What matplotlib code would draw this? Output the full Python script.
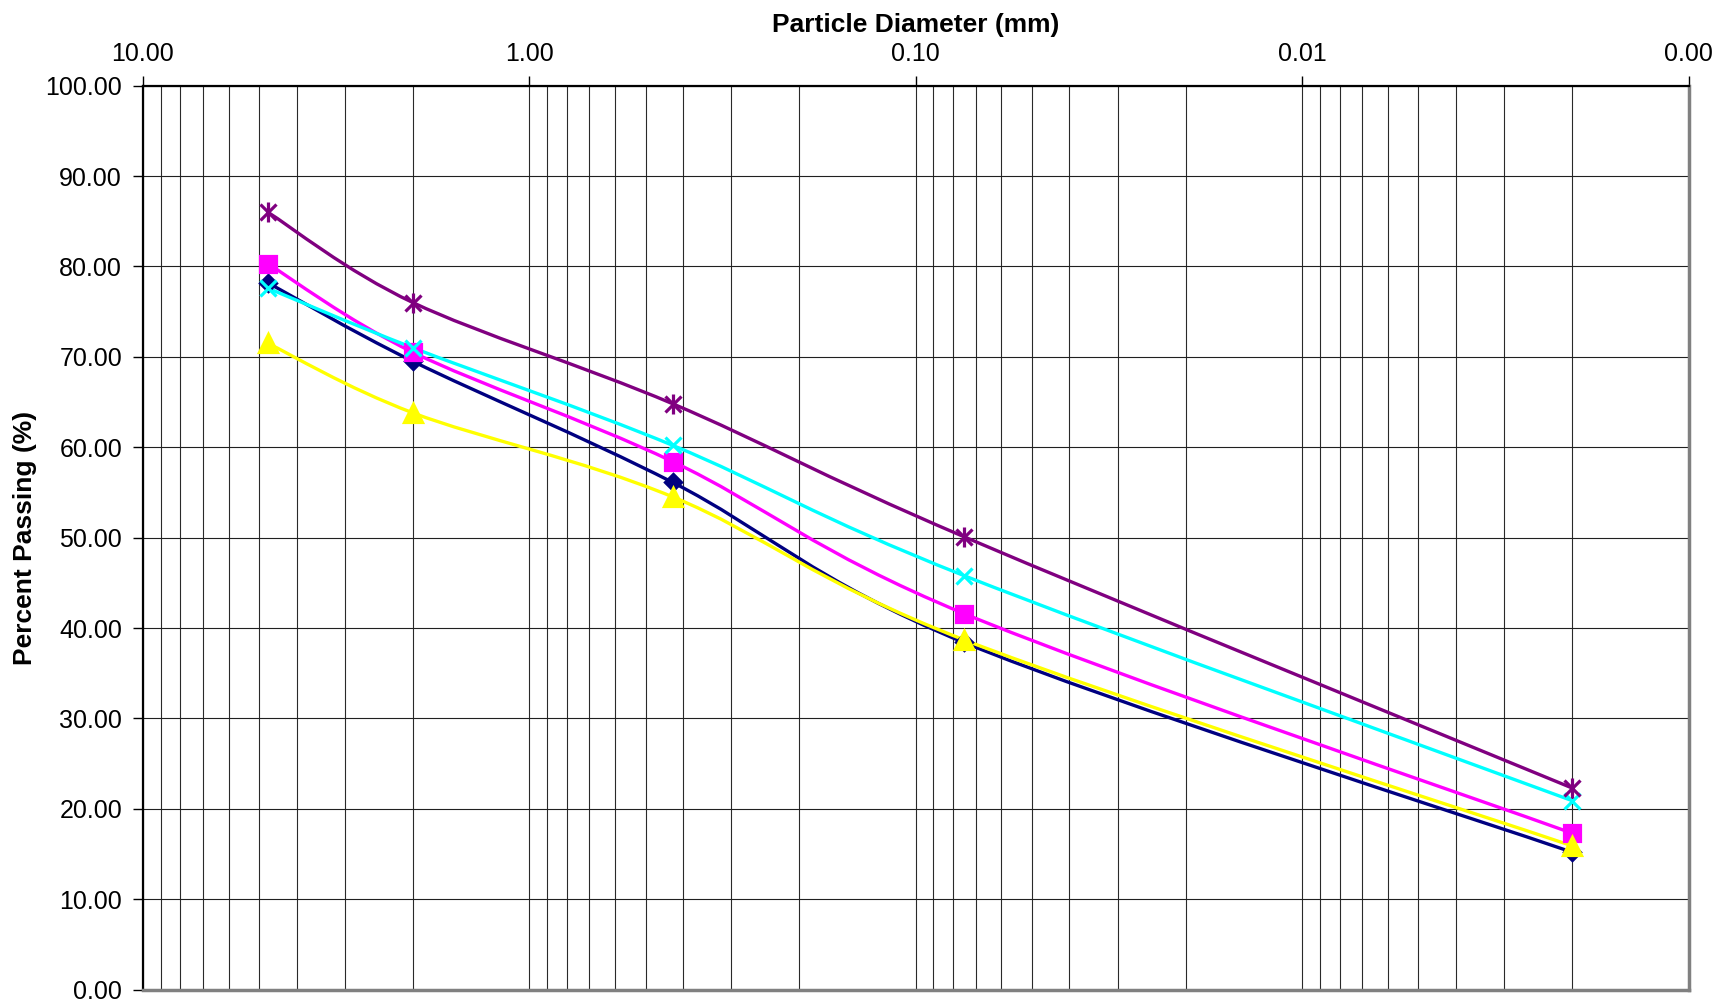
import numpy as np
import matplotlib
matplotlib.use('Agg')
import matplotlib.pyplot as plt
from matplotlib.path import Path
from matplotlib.patches import PathPatch
from matplotlib.ticker import FixedLocator, FuncFormatter, LogLocator, NullFormatter

plt.rcParams['font.family'] = ['Liberation Sans', 'DejaVu Sans']

# sieve sizes (mm) and percent passing for each sample
sizes = [4.75, 2.0, 0.425, 0.075, 0.002]
navy_vals = [78.2, 69.5, 56.1, 38.4, 15.2]
magenta_vals = [80.3, 70.5, 58.4, 41.6, 17.3]
yellow_vals = [71.5, 63.8, 54.5, 38.7, 15.9]
cyan_vals = [77.6, 71.0, 60.2, 45.8, 20.9]
purple_vals = [86.0, 76.0, 64.8, 50.1, 22.3]

series = [
    (navy_vals, '#000080', 'D', 8),
    (magenta_vals, '#FF00FF', 's', 12),
    (yellow_vals, '#FFFF00', '^', 13),
    (cyan_vals, '#00FFFF', 'x', 12),
    (purple_vals, '#800080', 'x', 12),
]


def smooth_path(xs, ys):
    # excel style smoothed line: bezier segments with catmull-rom control points in log-x space
    u = np.log10(xs)
    y = np.array(ys, dtype=float)
    n = len(u)
    verts = [(xs[0], y[0])]
    codes = [Path.MOVETO]
    for i in range(n - 1):
        i0 = max(i - 1, 0)
        i3 = min(i + 2, n - 1)
        c1u = u[i] + (u[i + 1] - u[i0]) / 6.0
        c1y = y[i] + (y[i + 1] - y[i0]) / 6.0
        c2u = u[i + 1] - (u[i3] - u[i]) / 6.0
        c2y = y[i + 1] - (y[i3] - y[i]) / 6.0
        verts += [(10 ** c1u, c1y), (10 ** c2u, c2y), (xs[i + 1], y[i + 1])]
        codes += [Path.CURVE4] * 3
    return Path(verts, codes)


fig = plt.figure(figsize=(17.23, 10.05), dpi=100)
ax = fig.add_axes([0.0829, 0.0153, 0.8971, 0.8995])

ax.set_xscale('log')
ax.set_xlim(10, 0.001)
ax.set_ylim(0, 100)

z = 3
for vals, col, mk, ms in series:
    ax.add_patch(PathPatch(smooth_path(sizes, vals), fill=False, edgecolor=col, lw=2.4, zorder=z))
    z += 1
z = 10
for vals, col, mk, ms in series:
    ax.plot(sizes, vals, ls='none', marker=mk, ms=ms, color=col, mec=col, mew=2.3, zorder=z)
    if col == '#800080':
        ax.plot(sizes, vals, ls='none', marker='|', ms=ms + 3, color=col, mew=2.3, zorder=z)
    z += 1

# grid
ax.xaxis.set_major_locator(FixedLocator([10, 1, 0.1, 0.01, 0.001]))
ax.xaxis.set_minor_locator(LogLocator(base=10, subs=np.arange(2, 10)))
ax.xaxis.set_minor_formatter(NullFormatter())
ax.xaxis.set_major_formatter(FuncFormatter(lambda v, p: '%.2f' % v))
ax.set_yticks(np.arange(0, 101, 10))
ax.yaxis.set_major_formatter(FuncFormatter(lambda v, p: '%.2f' % v))
ax.grid(True, which='both', axis='x', color='#2a2a2a', lw=0.8)
ax.grid(True, which='major', axis='y', color='#202020', lw=0.8)
ax.set_axisbelow(True)

ax.xaxis.tick_top()
ax.xaxis.set_label_position('top')
ax.tick_params(axis='x', which='major', direction='out', length=7, width=1, pad=7, labelsize=18, colors='black')
ax.tick_params(axis='x', which='minor', length=0)
ax.tick_params(axis='y', direction='out', length=7, width=1, pad=8, labelsize=18)

ax.set_xlabel('Particle Diameter (mm)', fontsize=19, fontweight='bold', labelpad=7)
ax.set_ylabel('Percent Passing (%)', fontsize=19, fontweight='bold', labelpad=6)

for s in ['left', 'top']:
    ax.spines[s].set_color('black')
    ax.spines[s].set_linewidth(1.6)
for s in ['right', 'bottom']:
    ax.spines[s].set_color('#808080')
    ax.spines[s].set_linewidth(2.5)

fig.savefig('out.png', dpi=100)
